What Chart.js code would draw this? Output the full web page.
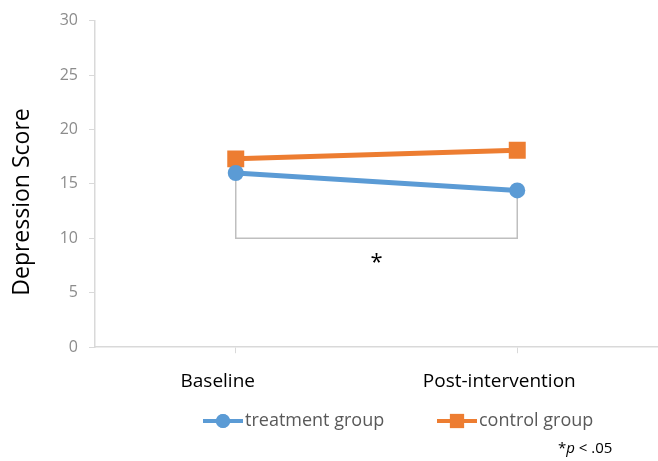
<!DOCTYPE html>
<html>
<head>
<meta charset="utf-8">
<script src="https://cdn.jsdelivr.net/npm/chart.js@4"></script>
<style>
  html, body { margin: 0; padding: 0; background: #fff; }
  #wrap { position: relative; width: 658px; height: 461px; }
</style>
</head>
<body>
<div id="wrap"><canvas id="chart" width="658" height="461"></canvas></div>
<script>
// chart data
const timepoints = ['Baseline', 'Post-intervention'];
const treatmentScores = [16.0, 14.4];
const controlScores = [17.3, 18.1];
const seriesNames = ['treatment group', 'control group'];
const yTicks = [0, 5, 10, 15, 20, 25, 30];
const yTitle = 'Depression Score';
const bracketLevel = 10;   // bottom of significance bracket
const starLevel = 8.1;     // where the asterisk sits
const footnote = ['*', 'p', ' < .05'];

const blue = '#5b9bd5';
const orange = '#ed7d31';
const fontFamily = '"Open Sans", "Noto Sans", sans-serif';

// significance bracket, asterisk, axis title, legend and footnote
const extras = {
  id: 'extras',
  beforeDatasetsDraw(chart) {
    const ctx = chart.ctx;
    const x = chart.scales.x, y = chart.scales.y;
    const x0 = x.getPixelForValue(0), x1 = x.getPixelForValue(1);
    const yb = y.getPixelForValue(bracketLevel);
    ctx.save();
    ctx.strokeStyle = '#bfbfbf';
    ctx.lineWidth = 1.5;
    ctx.beginPath();
    ctx.moveTo(x0, y.getPixelForValue(treatmentScores[0]));
    ctx.lineTo(x0, yb);
    ctx.lineTo(x1, yb);
    ctx.lineTo(x1, y.getPixelForValue(treatmentScores[1]));
    ctx.stroke();
    ctx.fillStyle = '#000';
    ctx.font = '22px ' + fontFamily;
    ctx.textAlign = 'center';
    ctx.textBaseline = 'middle';
    ctx.fillText('*', (x0 + x1) / 2, y.getPixelForValue(starLevel) + 4);
    ctx.restore();
  },
  afterDraw(chart) {
    const ctx = chart.ctx;
    ctx.save();
    // y axis title
    ctx.save();
    ctx.translate(22, 202);
    ctx.rotate(-Math.PI / 2);
    ctx.fillStyle = '#000';
    ctx.font = '23px ' + fontFamily;
    ctx.textAlign = 'center';
    ctx.textBaseline = 'middle';
    ctx.fillText(yTitle, 0, 0);
    ctx.restore();
    // legend
    const ly = 421;
    const items = [
      { x: 203, color: blue, style: 'circle', r: 7 },
      { x: 437, color: orange, style: 'rect', r: 10 }
    ];
    ctx.font = '18px ' + fontFamily;
    ctx.textBaseline = 'middle';
    items.forEach((it, i) => {
      ctx.strokeStyle = it.color;
      ctx.lineWidth = 4;
      ctx.beginPath();
      ctx.moveTo(it.x, ly);
      ctx.lineTo(it.x + 40, ly);
      ctx.stroke();
      ctx.fillStyle = it.color;
      Chart.helpers.drawPoint(ctx, { pointStyle: it.style, radius: it.r, borderWidth: 0, rotation: 0 }, it.x + 20, ly);
      ctx.fill();
      ctx.fillStyle = '#595959';
      ctx.textAlign = 'left';
      ctx.fillText(seriesNames[i], it.x + 42, ly);
    });
    // footnote
    ctx.fillStyle = '#000';
    ctx.font = '15px ' + fontFamily;
    let fx = 558;
    const fy = 449;
    ctx.fillText(footnote[0], fx, fy);
    fx += ctx.measureText(footnote[0]).width;
    ctx.font = 'italic 15px ' + fontFamily;
    ctx.fillText(footnote[1], fx, fy);
    fx += ctx.measureText(footnote[1]).width;
    ctx.font = '15px ' + fontFamily;
    ctx.fillText(footnote[2], fx, fy);
    ctx.restore();
  }
};

new Chart(document.getElementById('chart'), {
  type: 'line',
  data: {
    labels: timepoints,
    datasets: [
      {
        label: seriesNames[0],
        data: treatmentScores,
        borderColor: blue,
        backgroundColor: blue,
        borderWidth: 5,
        pointStyle: 'circle',
        pointRadius: 8,
        pointBorderWidth: 0
      },
      {
        label: seriesNames[1],
        data: controlScores,
        borderColor: orange,
        backgroundColor: orange,
        borderWidth: 5,
        pointStyle: 'rect',
        pointRadius: 12,
        pointBorderWidth: 0
      }
    ]
  },
  options: {
    responsive: false,
    animation: false,
    layout: { autoPadding: false, padding: { top: 10, right: -14, bottom: 51, left: 60 } },
    plugins: {
      legend: { display: false },
      tooltip: { enabled: false }
    },
    scales: {
      x: {
        offset: true,
        afterFit(axis) { axis.paddingLeft = 0; axis.paddingRight = 0; },
        grid: { display: true, drawOnChartArea: false, color: '#d9d9d9', tickLength: 6 },
        border: { color: '#d9d9d9', width: 1.5 },
        ticks: { color: '#000', font: { family: fontFamily, size: 19 }, padding: 17, labelOffset: -18 }
      },
      y: {
        min: 0,
        max: 30,
        afterBuildTicks(axis) { axis.ticks = yTicks.map(v => ({ value: v })); },
        afterFit(axis) { axis.width = 35; },
        grid: { display: true, drawOnChartArea: false, color: '#d9d9d9', tickLength: 6 },
        border: { color: '#d9d9d9', width: 1.5 },
        ticks: { color: '#8c8c8c', font: { family: fontFamily, size: 16 }, padding: 11 }
      }
    }
  },
  plugins: [extras]
});
</script>
</body>
</html>
